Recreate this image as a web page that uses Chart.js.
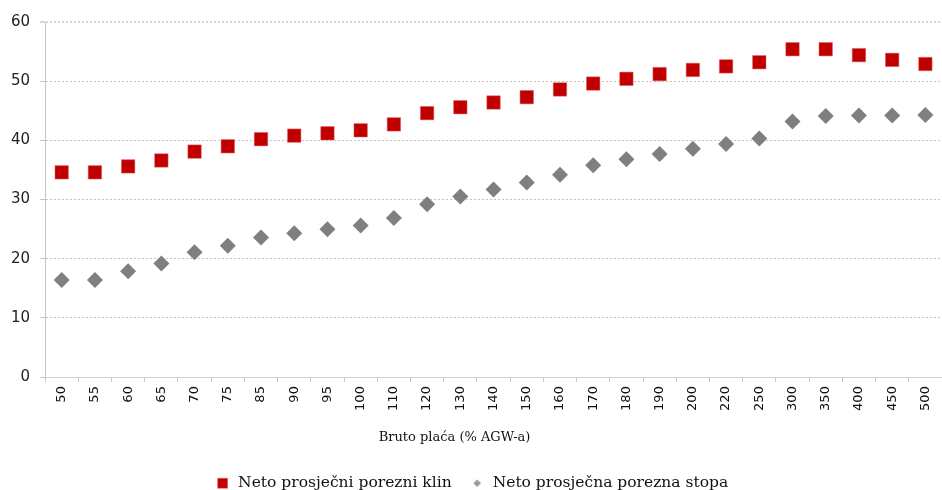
<!DOCTYPE html>
<html>
<head>
<meta charset="utf-8">
<script src="https://cdn.jsdelivr.net/npm/chart.js@4/dist/chart.umd.min.js"></script>
<style>
    html, body { margin: 0; padding: 0; background: #fff; }
    #wrap { width: 942px; height: 490px; position: relative; }
</style>
</head>
<body>
<div id="wrap"><canvas id="tax-chart"></canvas></div>
<script>
// DATA
// ---------------------------------------------------
const categories = [ '50', '55', '60', '65', '70', '75', '85', '90', '95', '100', '110', '120', '130', '140',
    '150', '160', '170', '180', '190', '200', '220', '250', '300', '350', '400', '450', '500' ];
const porezniKlin = [ 34.6, 34.6, 35.6, 36.6, 38.1, 39.0, 40.2, 40.8, 41.2, 41.7, 42.7, 44.6, 45.6, 46.4,
    47.3, 48.6, 49.6, 50.4, 51.2, 51.9, 52.5, 53.2, 55.4, 55.4, 54.4, 53.6, 52.9 ];
const poreznaStopa = [ 16.4, 16.4, 17.9, 19.2, 21.1, 22.2, 23.6, 24.3, 25.0, 25.6, 26.9, 29.2, 30.5, 31.7,
    32.9, 34.2, 35.8, 36.8, 37.7, 38.6, 39.4, 40.3, 43.2, 44.1, 44.2, 44.2, 44.3 ];
const yTicks = [ 0, 10, 20, 30, 40, 50, 60 ];

window.addEventListener( 'load', function () {
    const ctx = document.querySelector( '#tax-chart' );

    // small diamond for the legend entry
    // ---------------------------------------------------
    const legendDiamond = document.createElement( 'canvas' );
    legendDiamond.width = 10;
    legendDiamond.height = 10;
    const d = legendDiamond.getContext( '2d' );
    d.fillStyle = '#999999';
    d.beginPath();
    d.moveTo( 5, 1.2 );
    d.lineTo( 8.8, 5 );
    d.lineTo( 5, 8.8 );
    d.lineTo( 1.2, 5 );
    d.closePath();
    d.fill();

    const chart = new Chart( ctx, {
        type: 'line',
        data: {
            labels: categories,
            datasets: [
                {
                    label: 'Neto prosječni porezni klin',
                    data: porezniKlin,
                    showLine: false,
                    pointStyle: 'rect',
                    pointRadius: 9.5,
                    pointHoverRadius: 9.5,
                    backgroundColor: '#c00000',
                    borderColor: '#e06060',
                    pointBorderWidth: 0.5
                },
                {
                    label: 'Neto prosječna porezna stopa',
                    data: poreznaStopa,
                    showLine: false,
                    pointStyle: 'rectRot',
                    pointRadius: 8,
                    pointHoverRadius: 8,
                    backgroundColor: '#7f7f7f',
                    borderColor: '#7f7f7f',
                    pointBorderWidth: 0
                }
            ]
        },
        options: {
            responsive: true,
            maintainAspectRatio: false,
            animation: false,
            clip: false,
            layout: {
                autoPadding: false,
                padding: { top: 22, right: 0, left: 1, bottom: -11 }
            },
            plugins: {
                tooltip: { enabled: false },
                legend: {
                    position: 'bottom',
                    labels: {
                        usePointStyle: true,
                        boxHeight: 10,
                        padding: 10,
                        color: '#111',
                        font: { family: 'DejaVu Serif', size: 15.5 },
                        generateLabels: function ( c ) {
                            const items = Chart.defaults.plugins.legend.labels.generateLabels( c );
                            items[ 0 ].text += '\u2002';
                            items[ 1 ].pointStyle = legendDiamond;
                            return items;
                        }
                    }
                }
            },
            scales: {
                x: {
                    offset: true,
                    afterFit: function ( axis ) {
                        axis.paddingRight = 0;
                    },
                    grid: {
                        offset: true,
                        drawOnChartArea: false,
                        drawTicks: true,
                        tickLength: 5,
                        tickColor: '#c8c8c8'
                    },
                    border: { display: true, color: '#d0d0d0', width: 1 },
                    ticks: {
                        minRotation: 90,
                        maxRotation: 90,
                        autoSkip: false,
                        padding: 4,
                        color: '#111',
                        font: { family: 'DejaVu Sans', size: 13 }
                    },
                    title: {
                        display: true,
                        text: 'Bruto plaća (% AGW-a)\u2003\u2003\u2003\u2003\u2003\u2003',
                        color: '#111',
                        padding: { top: 15, bottom: 20 },
                        font: { family: 'DejaVu Serif', size: 13 }
                    }
                },
                y: {
                    min: 0,
                    max: 60,
                    afterBuildTicks: function ( axis ) {
                        axis.ticks = yTicks.map( function ( v ) { return { value: v }; } );
                    },
                    grid: {
                        color: function ( c ) {
                            return c.tick && c.tick.value === 60 ? '#d6d6d6' : '#c4c4c4';
                        },
                        lineWidth: function ( c ) {
                            return c.tick && c.tick.value === 60 ? 2 : 1;
                        },
                        drawTicks: true,
                        tickLength: 5
                    },
                    border: { display: true, color: '#c4c4c4', dash: [ 2, 2 ] },
                    ticks: {
                        padding: 10,
                        color: '#222',
                        font: { family: 'DejaVu Sans', size: 15 }
                    }
                }
            }
        }
    });
}, false );
</script>
</body>
</html>
